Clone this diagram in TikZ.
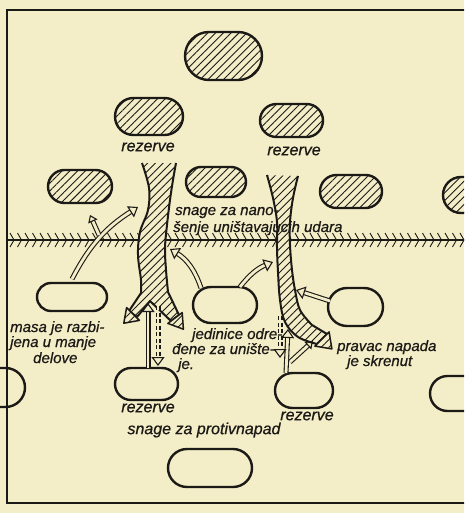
\documentclass[tikz,border=0pt]{standalone}
\usepackage{fontspec}
\setmainfont{Liberation Sans}
\newfontfamily\hand{Liberation Sans Italic}[FakeBold=0.7]
\usetikzlibrary{shapes.misc,patterns.meta,arrows.meta}
\definecolor{bg}{RGB}{243,237,200}
\definecolor{ink}{RGB}{28,26,22}
\begin{document}
\begin{tikzpicture}[x=1pt,y=-1pt,
  stad/.style={rounded rectangle, draw=ink, line width=2.4pt, inner sep=0pt},
  hatch/.style={pattern={Lines[angle=45,distance=5.5pt,line width=0.9pt]}, pattern color=ink},
  hstad/.style={stad, hatch},
  lbl/.style={font=\hand\fontsize{15}{15}\selectfont, text=ink, inner sep=0pt, anchor=base west},
  clbl/.style={font=\hand\fontsize{16}{16}\selectfont, text=ink, inner sep=0pt},
  hol/.style={draw=ink, line width=1.1pt, double=bg, double distance=2.8pt, -{Triangle[open,length=9pt,width=13pt]}},
  hols/.style={hol, -{Triangle[open,length=7pt,width=10pt]}},
  dhol/.style={hol, dash pattern=on 4pt off 2.5pt},
  band/.style={draw=ink, line width=2pt, line join=round, hatch, preaction={fill=bg}},
  bhead/.style={draw=ink, line width=1.5pt, line join=round, hatch, preaction={fill=bg}}
]
\useasboundingbox (0,0) rectangle (464,513);
\fill[bg] (0,0) rectangle (464,513);
\begin{scope}
\clip (0,0) rectangle (464,513);
% frame
\draw[ink, line width=1.8pt] (470,10) -- (7,10) -- (7,503) -- (470,503);
% front line
\draw[ink, line width=1.3pt] (7,240) -- (470,240);
\foreach \x in {14,21.5,...,468} \draw[ink, line width=0.9pt] (\x-4,233) -- (\x,240) -- (\x-4,247);
% hatched stadiums (enemy)
\node[hstad, minimum width=77pt, minimum height=48pt] (top) at (223.5,56) {};
\node[hstad, minimum width=68pt, minimum height=37pt] (resL) at (149,116.5) {};
\node[hstad, minimum width=63pt, minimum height=33pt] (resR) at (291.5,120.5) {};
\node[hstad, minimum width=64pt, minimum height=33pt] (rowA) at (80,186.5) {};
\node[hstad, minimum width=60pt, minimum height=30pt] (rowB) at (216,182) {};
\node[hstad, minimum width=62pt, minimum height=33pt] (rowC) at (351,191.5) {};
\node[hstad, minimum width=64pt, minimum height=36pt] (rowD) at (475,195) {};
\node[clbl] (rzL) at (148,147) {rezerve};
\node[clbl] (rzR) at (294,151) {rezerve};
% white stadiums (own)
\node[stad, minimum width=70pt, minimum height=28pt] (wL) at (72,297) {};
\node[stad, minimum width=64pt, minimum height=36pt] (wC) at (225,305) {};
\node[stad, minimum width=55pt, minimum height=38pt] (wR) at (355.5,307) {};
\node[stad, minimum width=50pt, minimum height=39pt] (wEL) at (0,387.5) {};
\node[stad, minimum width=60pt, minimum height=35pt] (wER) at (460,393.5) {};
\node[stad, minimum width=63pt, minimum height=32pt] (bL) at (146.5,384) {};
\node[stad, minimum width=58pt, minimum height=35pt] (bR) at (304,390.5) {};
\node[stad, minimum width=84pt, minimum height=38pt] (bot) at (210,468) {};
\node[clbl] (rzbL) at (148,408) {rezerve};
\node[clbl] (rzbR) at (307,416) {rezerve};
\node[clbl] (prot) at (204,430) {snage za protivnapad};
% left attack band
\draw[band] plot[smooth,tension=0.6] coordinates {(142,163) (149,188) (148,210) (140,232) (138,255) (141,280) (141,293)}
  -- (129,311) -- (137,317) -- (150,301) -- (171,321) -- (179,315)
  -- plot[smooth,tension=0.6] coordinates {(168,292) (166,270) (165,248) (167,225) (170,200) (173,180) (176,163)};
\draw[bhead] (126.6,307.6) -- (123.8,323.2) -- (139.4,320.4) -- cycle;
\draw[bhead] (182.2,312.6) -- (183.4,329.2) -- (167.8,323.4) -- cycle;
% right attack band
\draw[band] plot[smooth,tension=0.6] coordinates {(267,175) (273,198) (277,222) (277,248) (278,272) (280,300) (285,322) (298,337) (317,344)}
  -- (327,334)
  -- plot[smooth,tension=0.6] coordinates {(312,325) (300,310) (295,290) (292,270) (290,245) (290,222) (293,198) (298,176)};
\draw[bhead] (314.9,346.1) -- (331.9,348.9) -- (329.1,331.9) -- cycle;
% connector end points
\coordinate (a1s) at (72,279);
\coordinate (a1e) at (138,207);
\coordinate (a1b) at (99,235);
\coordinate (a1t) at (90,215);
\coordinate (a2s) at (201,288);
\coordinate (a2e) at (170,249);
\coordinate (a3s) at (240,287);
\coordinate (a3e) at (273,262);
\coordinate (a4s) at (330,301);
\coordinate (a4e) at (296,290);
\coordinate (a5s) at (148,368);
\coordinate (a5e) at (148,303);
\coordinate (a5ds) at (158,306);
\coordinate (a5de) at (158,366);
\coordinate (a6s) at (286,373);
\coordinate (a6e) at (288,329);
\coordinate (a6b) at (290,362);
\coordinate (a6bt) at (313,341);
\coordinate (a6ds) at (280,316);
\coordinate (a6de) at (280,358);
% arrows
\draw[hol] (a1s) to[bend left=15] (a1e);
\draw[hols] (a1b) -- (a1t);
\draw[hol] (a2s) to[bend right=20] (a2e);
\draw[hol] (a3s) to[bend left=15] (a3e);
\draw[hol] (a4s) -- (a4e);
\draw[hol] (a5s) -- (a5e);
\draw[dhol] (a5ds) -- (a5de);
\draw[hol] (a6s) -- (a6e);
\draw[hols] (a6b) -- (a6bt);
\draw[dhol] (a6ds) -- (a6de);
% labels
\node[lbl] (n1) at (175,215) {snage za nano-};
\node[lbl] (n2) at (173,232) {šenje uništavajucih udara};
\node[lbl] (m1) at (10,332) {masa je razbi-};
\node[lbl] (m2) at (10,347) {jena u manje};
\node[lbl] (m3) at (33,363) {delove};
\node[lbl] (j1) at (192,339) {jedinice odre-};
\node[lbl] (j2) at (172,354) {đene za unište-};
\node[lbl] (j3) at (178,369) {je.};
\node[lbl] (p1) at (337,351) {pravac napada};
\node[lbl] (p2) at (347,366) {je skrenut};
\end{scope}
\end{tikzpicture}
\end{document}
